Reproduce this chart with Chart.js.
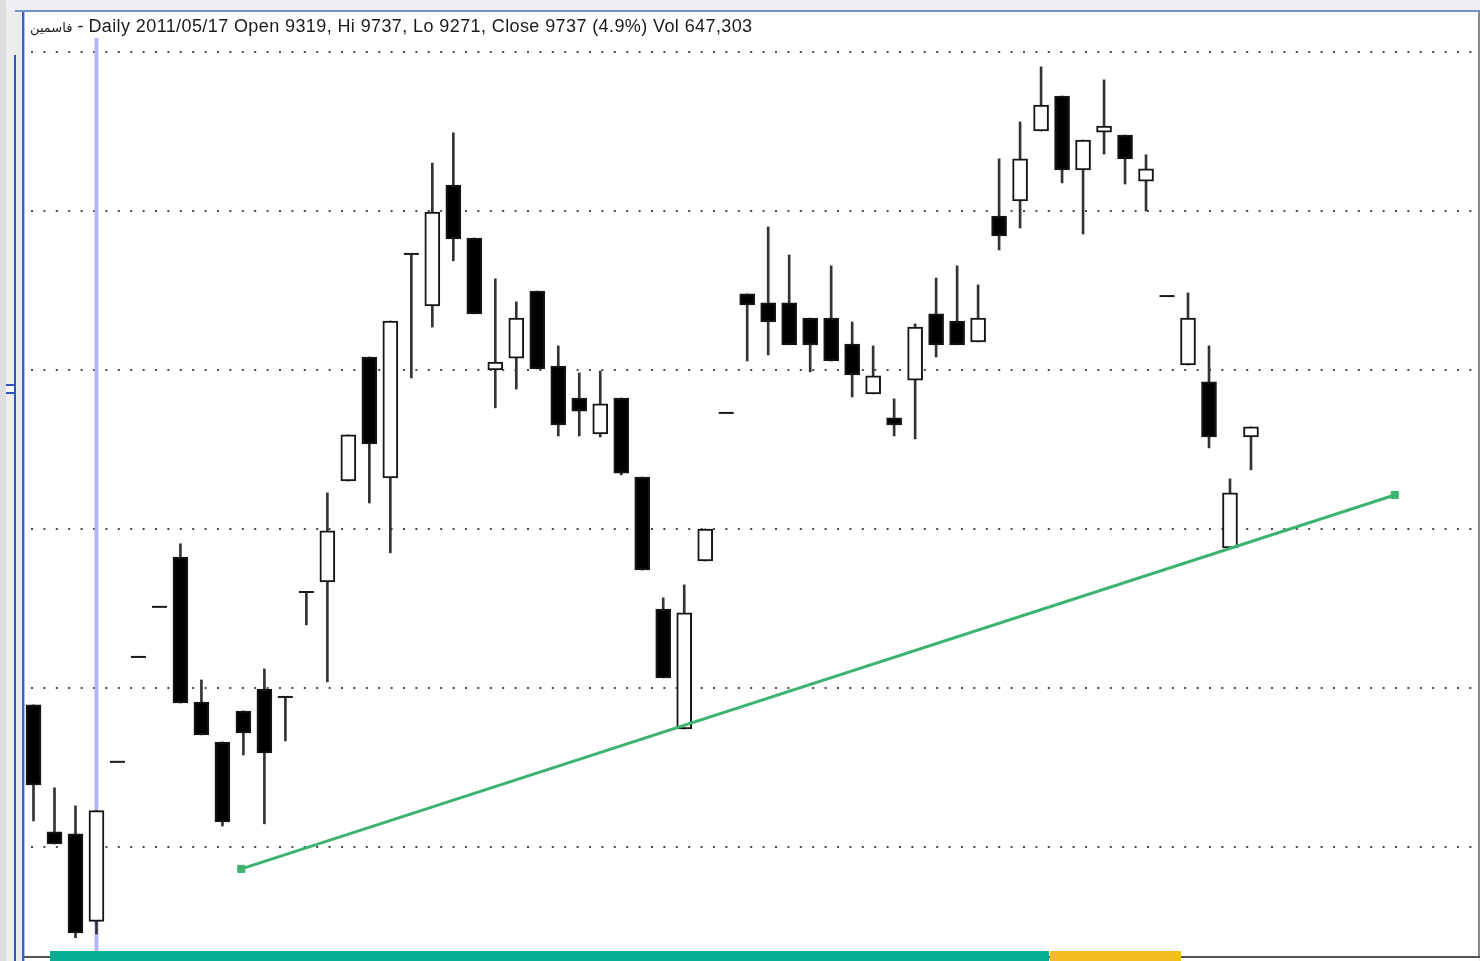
<!DOCTYPE html>
<html>
<head>
<meta charset="utf-8">
<script src="https://cdn.jsdelivr.net/npm/chart.js@4.4.1/dist/chart.umd.min.js"></script>
<style>
  html, body { margin: 0; padding: 0; }
  body { width: 1480px; height: 961px; position: relative; overflow: hidden; background: #ececec; font-family: "Liberation Sans", Arial, sans-serif; }
  .abs { position: absolute; }
  #topstrip { left: 0; top: 0; width: 1480px; height: 10px; background: #eef0f5; }
  #leftdark { left: 0; top: 0; width: 6px; height: 961px; background: #dedede; }
  #panel { left: 24px; top: 12px; width: 1455px; height: 949px; background: #fff; }
  #topline { left: 15px; top: 10px; width: 1465px; height: 2px; background: #6f90d2; }
  #blue1 { left: 14px; top: 55px; width: 2px; height: 906px; background: #2f55c4; }
  #blue2 { left: 22px; top: 12px; width: 2px; height: 949px; background: #3a5fcf; }
  #blue3 { left: 24px; top: 12px; width: 1px; height: 949px; background: #a9c0f0; }
  #notch1 { left: 6px; top: 384px; width: 9px; height: 2px; background: #2f55c4; }
  #notch2 { left: 6px; top: 392px; width: 9px; height: 2px; background: #2f55c4; }
  #notchfill { left: 6px; top: 386px; width: 8px; height: 6px; background: #f6f8fc; }
  #rightline { left: 1478px; top: 12px; width: 2px; height: 946px; background: #8a8a8a; }
  #bottomline { left: 24px; top: 956px; width: 1456px; height: 2px; background: #555; }
  #teal { left: 50px; top: 951px; width: 999px; height: 10px; background: #06ae91; z-index: 3; }
  #yellow { left: 1050px; top: 951px; width: 131px; height: 10px; background: #f4be22; z-index: 3; }
  #title { left: 30px; top: 17px; font-size: 18px; line-height: 18px; letter-spacing: 0.4px; color: #1a1a1a; white-space: nowrap; z-index: 3; }
  #title .ar { font-family: "DejaVu Sans", sans-serif; font-size: 13px; letter-spacing: 0; }
  #chart { left: 0; top: 0; z-index: 2; }
</style>
</head>
<body>
<div class="abs" id="topstrip"></div>
<div class="abs" id="leftdark"></div>
<div class="abs" id="panel"></div>
<div class="abs" id="topline"></div>
<div class="abs" id="blue1"></div>
<div class="abs" id="blue2"></div>
<div class="abs" id="blue3"></div>
<div class="abs" id="notch1"></div>
<div class="abs" id="notch2"></div>
<div class="abs" id="notchfill"></div>
<div class="abs" id="rightline"></div>
<div class="abs" id="bottomline"></div>
<div class="abs" id="title"><span class="ar" dir="rtl">فاسمين</span> - Daily 2011/05/17 Open 9319, Hi 9737, Lo 9271, Close 9737 (4.9%) Vol 647,303</div>
<canvas class="abs" id="chart" width="1480" height="961"></canvas>
<div class="abs" id="teal"></div>
<div class="abs" id="yellow"></div>

<script>
//Daily candles, oldest first
const opens  = [10136, 9657, 9649, 9319, 9921, 10317, 10506, 10694, 10147, 9996,
                10113, 10196, 10166, 10562, 10600, 10981, 11449, 10993, 11838, 11642,
                12098, 11898, 11400, 11445, 11698, 11415, 11294, 11159, 11294, 10996,
                10498, 10045, 10679, 11238, 11687, 11653, 11653, 11596, 11596, 11498,
                11310, 11219, 11362, 11612, 11585, 11506, 11981, 12038, 12302, 12434,
                12155, 12298, 12287, 12113, 11679, 11419, 11355, 10728, 11147];
const highs  = [10136, 9823, 9755, 9737, 9921, 10317, 10506, 10744, 10230, 9996,
                10113, 10272, 10166, 10562, 10936, 11155, 11449, 11585, 11838, 12181,
                12295, 11898, 11744, 11657, 11698, 11491, 11389, 11396, 11294, 10996,
                10540, 10589, 10800, 11238, 11687, 11940, 11834, 11596, 11793, 11581,
                11491, 11291, 11574, 11747, 11793, 11721, 12197, 12336, 12544, 12434,
                12268, 12495, 12287, 12212, 11679, 11691, 11491, 10989, 11185];
const lows   = [9698, 9611, 9257, 9271, 9921, 10317, 10506, 10143, 10023, 9679,
                9947, 9687, 10000, 10438, 10223, 10981, 10898, 10710, 11370, 11562,
                11812, 11612, 11257, 11328, 11404, 11151, 11151, 11147, 11004, 10645,
                10238, 10045, 10679, 11238, 11434, 11457, 11495, 11393, 11434, 11298,
                11310, 11151, 11140, 11449, 11495, 11506, 11853, 11936, 12302, 12106,
                11913, 12215, 12102, 12000, 11679, 11419, 11106, 10728, 11023];
const closes = [9834, 9611, 9275, 9737, 9921, 10317, 10506, 10143, 10023, 9694,
                10030, 9955, 10166, 10562, 10793, 11155, 11121, 11585, 11838, 11996,
                11895, 11612, 11430, 11596, 11404, 11193, 11245, 11272, 11011, 10645,
                10238, 10483, 10800, 11238, 11646, 11581, 11495, 11495, 11434, 11381,
                11378, 11193, 11562, 11495, 11495, 11596, 11906, 12197, 12400, 12155,
                12268, 12321, 12197, 12159, 11679, 11596, 11147, 10936, 11185];

//Dotted price grid
const gridPrices = [9600, 10200, 10800, 11400, 12000, 12600];

//Trend line drawn on the chart
const trendX = [9.9, 64.85];
const trendY = [9517, 10928];

//Day under the cursor (2011/05/17)
const cursorIndex = 3;

document.addEventListener('DOMContentLoaded', function() {
    renderCandles();
});

function renderCandles() {
    const ctx = document.getElementById('chart').getContext('2d');

    const wicks = [];
    const bodies = [];
    const flats = [];
    opens.forEach(function(o, i) {
        if (highs[i] > lows[i]) wicks.push({x: i, y: [lows[i], highs[i]]});
        if (o !== closes[i]) bodies.push({x: i, y: [Math.min(o, closes[i]), Math.max(o, closes[i])]});
        else flats.push({x: i, y: o});
    });

    const cursorLine = {
        id: 'cursorLine',
        beforeDatasetsDraw(chart) {
            const c = chart.ctx;
            const x = chart.scales.x.getPixelForValue(cursorIndex);
            c.save();
            c.strokeStyle = '#b5b5fb';
            c.lineWidth = 4;
            c.beginPath();
            c.moveTo(x, chart.chartArea.top);
            c.lineTo(x, chart.height);
            c.stroke();
            c.restore();
        }
    };

    new Chart(ctx, {
        type: 'bar',
        data: {
            datasets: [
                {
                    type: 'bar',
                    data: wicks,
                    backgroundColor: '#333333',
                    barThickness: 2,
                    grouped: false,
                    order: 3
                },
                {
                    type: 'bar',
                    data: bodies,
                    backgroundColor: function(c) {
                        const i = c.raw ? c.raw.x : 0;
                        return closes[i] < opens[i] ? '#000000' : '#ffffff';
                    },
                    borderColor: '#151515',
                    borderWidth: 2,
                    borderSkipped: false,
                    barThickness: 15,
                    grouped: false,
                    order: 2
                },
                {
                    type: 'line',
                    data: flats,
                    showLine: false,
                    pointStyle: 'line',
                    pointRadius: 7.5,
                    pointBorderWidth: 2,
                    pointBorderColor: '#1a1a1a',
                    order: 1
                },
                {
                    type: 'line',
                    data: trendX.map(function(x, i) { return {x: x, y: trendY[i]}; }),
                    borderColor: '#3cb371',
                    borderWidth: 3,
                    pointStyle: 'rect',
                    pointRadius: 5,
                    pointBorderWidth: 1,
                    pointBackgroundColor: '#3cb371',
                    pointBorderColor: '#3cb371',
                    order: 0
                }
            ]
        },
        options: {
            responsive: false,
            animation: false,
            devicePixelRatio: 1,
            layout: {
                autoPadding: false,
                padding: {left: 23, top: 38, right: 0, bottom: 6}
            },
            scales: {
                x: {
                    type: 'linear',
                    display: false,
                    offset: false,
                    min: -0.5,
                    max: 68.91
                },
                y: {
                    min: 9192,
                    max: 12653,
                    afterBuildTicks: function(axis) {
                        axis.ticks = gridPrices.map(function(v) { return {value: v}; });
                    },
                    ticks: {display: false},
                    grid: {
                        drawTicks: false,
                        color: '#4a4a4a',
                        lineWidth: 2
                    },
                    border: {
                        display: false,
                        dash: [2, 10.4],
                        dashOffset: 4.4
                    }
                }
            },
            plugins: {
                legend: {display: false},
                tooltip: {enabled: false}
            }
        },
        plugins: [cursorLine]
    });
}
</script>
</body>
</html>
